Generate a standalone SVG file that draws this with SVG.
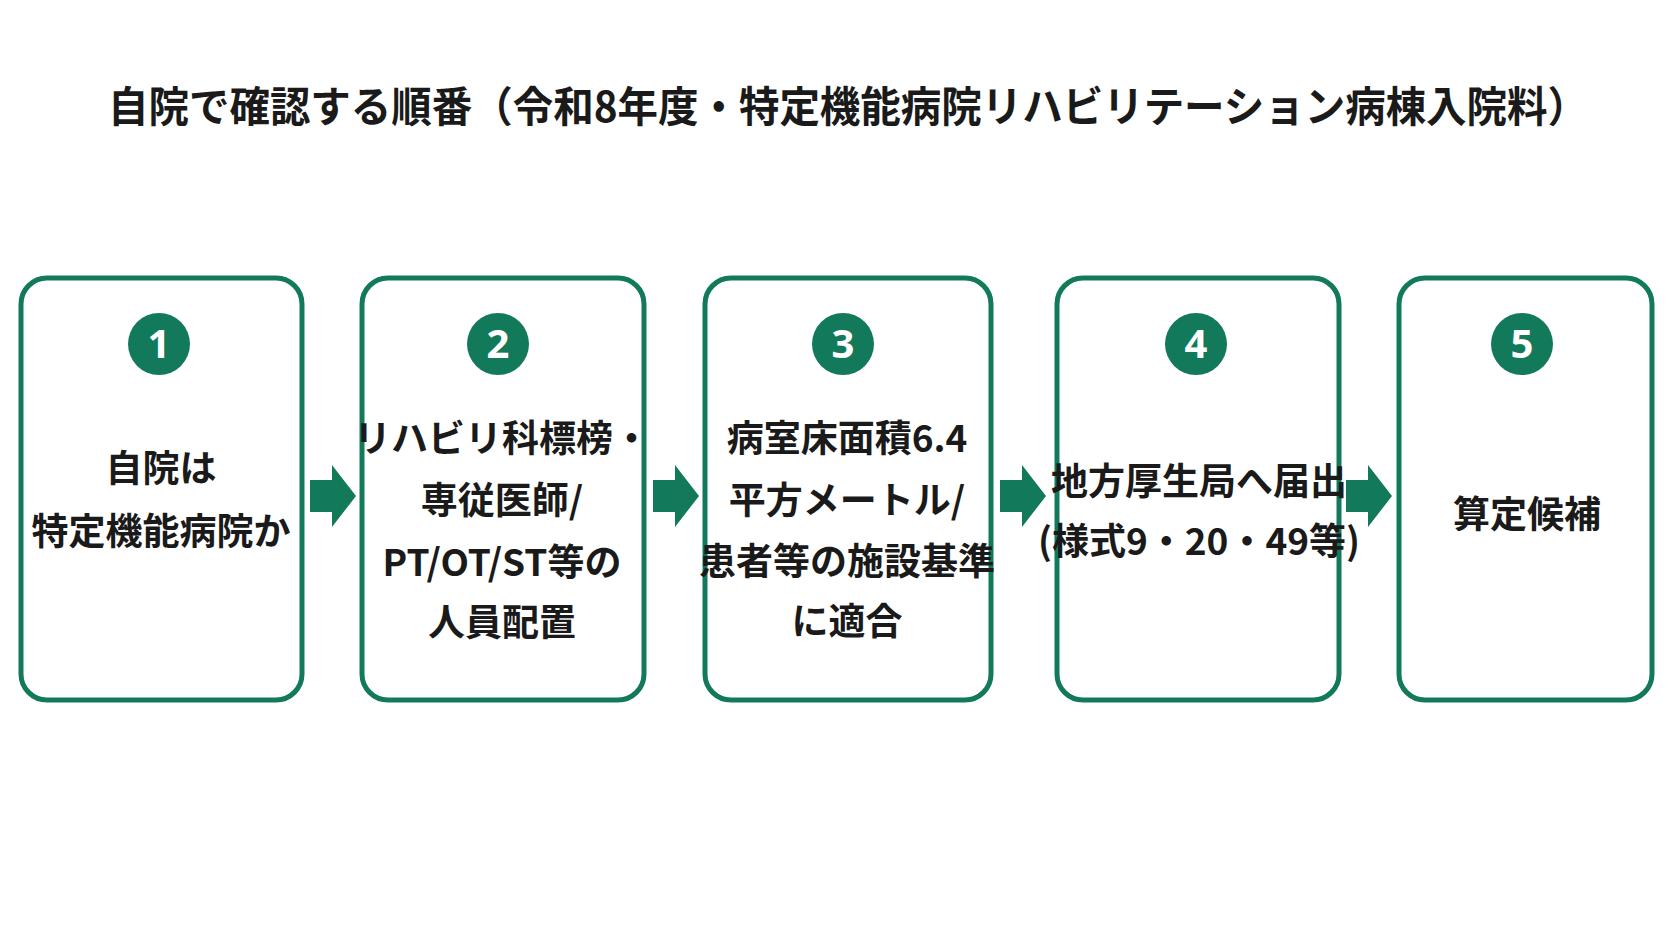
<svg xmlns="http://www.w3.org/2000/svg" width="1672" height="941" viewBox="0 0 1672 941">
<style>
.box{fill:#fff;stroke:#127a5b;stroke-width:5}
.num{fill:#127a5b}
.nt{font-family:"Noto Sans","Noto Sans CJK JP",sans-serif;font-weight:700;font-size:40px;fill:#fff;text-anchor:middle}
.t{font-family:"Noto Sans CJK JP",sans-serif;font-weight:700;font-size:37px;fill:#1a1a1a;text-anchor:middle}
.ar{fill:#127a5b}
</style>
<rect width="1672" height="941" fill="#fff"/>
<text x="848" y="122" font-family="Noto Sans CJK JP,sans-serif" font-weight="700" font-size="42" fill="#1a1a1a" text-anchor="middle" textLength="1480" lengthAdjust="spacingAndGlyphs">自院で確認する順番（令和8年度・特定機能病院リハビリテーション病棟入院料）</text>
<g id="n1"><rect class="box" x="21" y="278" width="281" height="422" rx="26"/><circle class="num" cx="159" cy="344" r="31"/><text class="nt" x="159" y="358">1</text><text class="t" x="161" y="482">自院は</text><text class="t" x="161" y="545">特定機能病院か</text></g>
<g id="n2"><rect class="box" x="362" y="278" width="282" height="422" rx="26"/><circle class="num" cx="498" cy="344" r="31"/><text class="nt" x="498" y="358">2</text><text class="t" x="502" y="452">リハビリ科標榜・</text><text class="t" x="502" y="514">専従医師/</text><text class="t" x="502" y="576">PT/OT/ST等の</text><text class="t" x="502" y="636">人員配置</text></g>
<g id="n3"><rect class="box" x="705" y="278" width="286" height="422" rx="26"/><circle class="num" cx="843" cy="344" r="31"/><text class="nt" x="843" y="358">3</text><text class="t" x="847" y="452">病室床面積6.4</text><text class="t" x="847" y="514">平方メートル/</text><text class="t" x="847" y="575">患者等の施設基準</text><text class="t" x="847" y="635">に適合</text></g>
<g id="n4"><rect class="box" x="1057" y="278" width="282" height="422" rx="26"/><circle class="num" cx="1196" cy="344" r="31"/><text class="nt" x="1196" y="358">4</text><text class="t" x="1199" y="495">地方厚生局へ届出</text><text class="t" x="1199" y="555">(様式9・20・49等)</text></g>
<g id="n5"><rect class="box" x="1399" y="278" width="253" height="422" rx="26"/><circle class="num" cx="1522" cy="344" r="31"/><text class="nt" x="1522" y="358">5</text><text class="t" x="1527" y="528">算定候補</text></g>
<g id="connectors">
<polygon class="ar" points="310,480 332,480 332,465 356,496 332,527 332,512 310,512"/>
<polygon class="ar" points="653,480 675,480 675,465 699,496 675,527 675,512 653,512"/>
<polygon class="ar" points="1000,480 1022,480 1022,465 1046,496 1022,527 1022,512 1000,512"/>
<polygon class="ar" points="1346,480 1368,480 1368,465 1392,496 1368,527 1368,512 1346,512"/>
</g>
</svg>
